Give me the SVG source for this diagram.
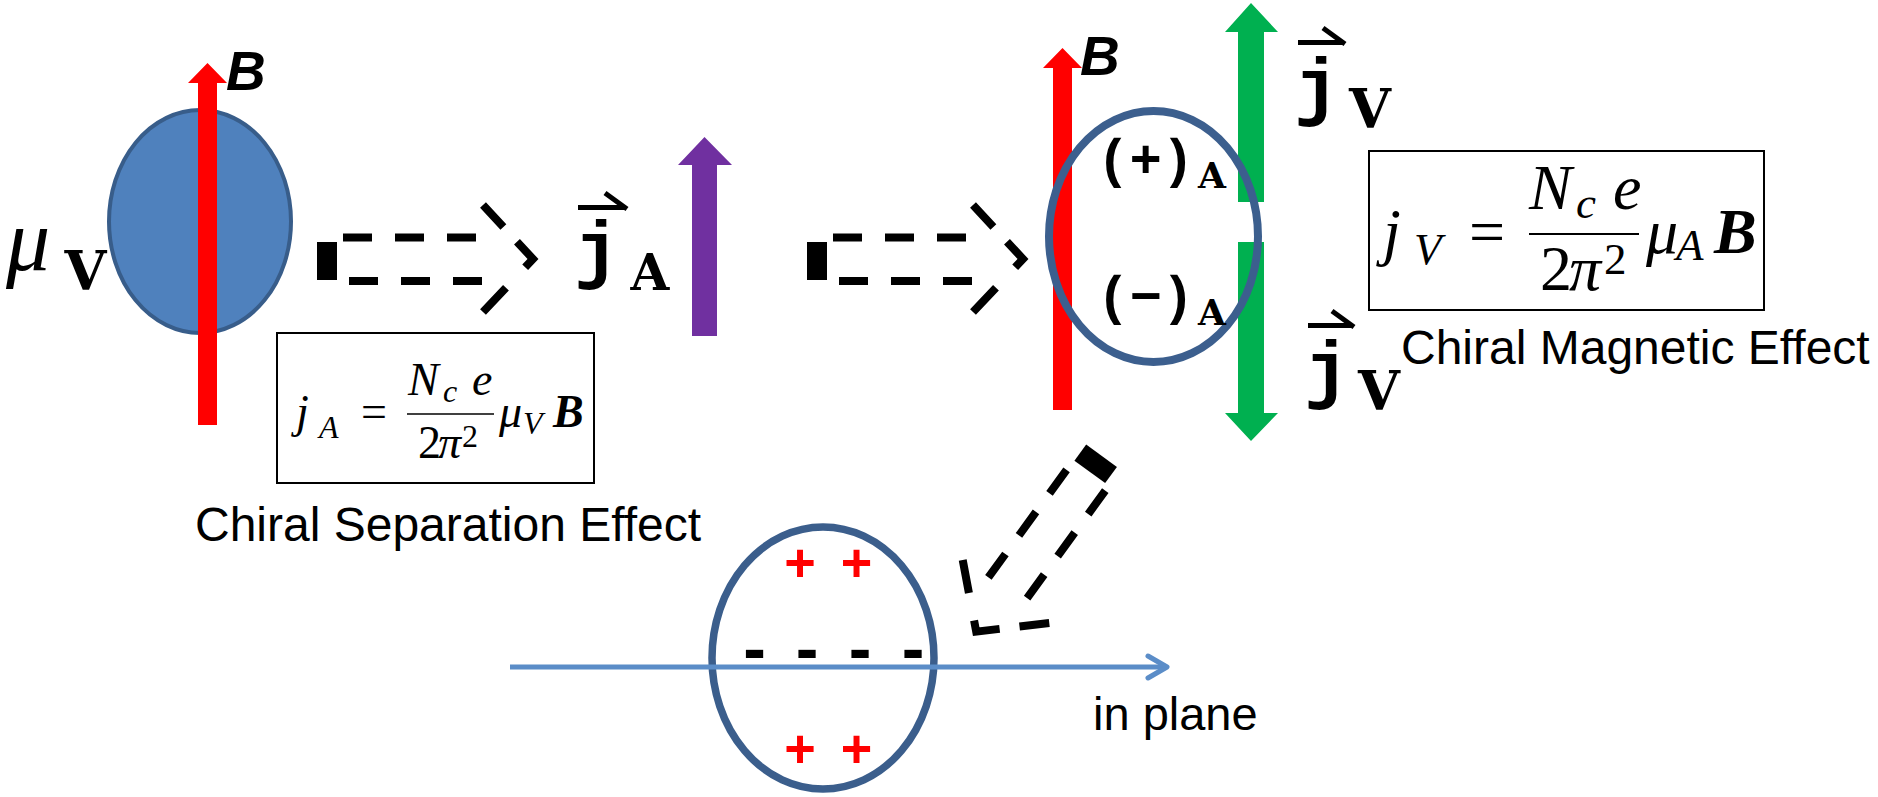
<svg xmlns="http://www.w3.org/2000/svg" xmlns:xlink="http://www.w3.org/1999/xlink" width="1878" height="797" viewBox="0 0 1878 797">
<style>
.sans{font-family:"Liberation Sans",Arial,sans-serif;fill:#000}
.bi{font-family:"Liberation Sans",Arial,sans-serif;font-weight:bold;font-style:italic;fill:#000}
.mono{font-family:"Liberation Mono","Courier New",monospace;font-weight:bold;fill:#000}
.slab{font-family:"DejaVu Serif",serif;font-weight:bold;fill:#000}
.m{font-family:"Liberation Serif","Times New Roman",serif;fill:#000}
.it{font-style:italic}
.bd{font-weight:bold}
.vec{fill:none;stroke:#000;stroke-width:5}
.box{fill:#fff;stroke:#000;stroke-width:2}
.red{fill:#FF0000}
.green{fill:#00B050}
.dash{fill:none;stroke:#000;stroke-width:8}
.plus{font-family:"Liberation Sans",Arial,sans-serif;font-weight:bold;fill:#FF0000;text-anchor:middle}
.minus{font-family:"Liberation Sans",Arial,sans-serif;font-weight:bold;fill:#000;text-anchor:middle}
</style>
<defs>
<g id="dashArrow">
<rect x="317" y="242" width="20" height="38" fill="#000"/>
<path class="dash" d="M343,237.5 H476" stroke-dasharray="29 23"/>
<path class="dash" d="M349,281 H482" stroke-dasharray="29 23"/>
<path class="dash" d="M483,205 L533,259 L483,312" stroke-dasharray="30 20 35 28 40"/>
</g>
</defs>
<rect width="1878" height="797" fill="#fff"/>

<!-- left blob with mu_V -->
<g id="blob-left">
<ellipse cx="200" cy="221.5" rx="91" ry="111.5" fill="#4F81BD" stroke="#385D8A" stroke-width="4"/>
<polygon class="red" points="198,425 198,83 188,83 207.5,63 227,83 217,83 217,425"/>
<text class="bi" x="226" y="90" font-size="55">B</text>
<text class="m it" x="6" y="270" font-size="88">μ</text>
<text class="slab" x="85.5" y="290" font-size="54" text-anchor="middle">V</text>
</g>

<!-- CSE formula -->
<g id="cse">
<rect class="box" x="277" y="333" width="317" height="150"/>
<text class="m it" x="296" y="427" font-size="46">j</text>
<text class="m it" x="319" y="438" font-size="32">A</text>
<text class="m" x="374" y="427" font-size="46" text-anchor="middle">=</text>
<text class="m it" x="408" y="395" font-size="46">N</text>
<text class="m it" x="443" y="402" font-size="32">c</text>
<text class="m it" x="472" y="395" font-size="46">e</text>
<line x1="407" y1="414" x2="494" y2="414" stroke="#000" stroke-width="1.6"/>
<text class="m" x="418" y="458" font-size="46">2<tspan font-style="italic" dx="-3">π</tspan><tspan font-size="32" dx="1" dy="-11">2</tspan></text>
<text class="m it" x="499" y="427" font-size="46">μ</text>
<text class="m it" x="523" y="434" font-size="32">V</text>
<text class="m it bd" x="553" y="427" font-size="46">B</text>
<text class="sans" x="195" y="541" font-size="48">Chiral Separation Effect</text>
</g>

<!-- j_A with purple arrow -->
<g id="jA">
<path class="vec" d="M578,207.5 H624 M627,209 L605,193"/>
<text class="mono" x="597" y="274" font-size="76" text-anchor="middle">j</text>
<text class="slab" x="650" y="290" font-size="50" text-anchor="middle">A</text>
<polygon fill="#7030A0" points="692,336 692,165 678,165 704.5,137 732,165 717,165 717,336"/>
</g>

<!-- middle: CME -->
<g id="cme-blob">
<polygon class="green" points="1238,202 1238,32 1225,32 1251,3 1278,32 1264,32 1264,202"/>
<polygon class="green" points="1238,242 1238,413 1225,413 1251,441 1278,413 1264,413 1264,242"/>
<polygon class="red" points="1053,410 1053,68 1043,68 1062.5,48 1082,68 1072,68 1072,410"/>
<ellipse cx="1153.5" cy="236.5" rx="104.5" ry="125.5" fill="none" stroke="#3C5F8E" stroke-width="8"/>
<text class="bi" x="1080" y="75" font-size="55">B</text>
<text class="mono" x="1097" y="177" font-size="54">(+)</text>
<text class="slab" x="1212" y="188" font-size="36" text-anchor="middle">A</text>
<text class="mono" x="1097" y="314" font-size="54">(−)</text>
<text class="slab" x="1212" y="325" font-size="36" text-anchor="middle">A</text>
</g>

<g id="jV-top">
<path class="vec" d="M1298,42.5 H1342 M1345,44 L1323,28"/>
<text class="mono" x="1317" y="111" font-size="76" text-anchor="middle">j</text>
<text class="slab" x="1370" y="128" font-size="54" text-anchor="middle">V</text>
</g>
<g id="jV-bottom">
<path class="vec" d="M1308,325.5 H1351 M1354,327 L1332,311"/>
<text class="mono" x="1327" y="394" font-size="76" text-anchor="middle">j</text>
<text class="slab" x="1379" y="410" font-size="54" text-anchor="middle">V</text>
</g>

<!-- CME formula -->
<g id="cme">
<rect class="box" x="1369" y="151" width="395" height="159"/>
<text class="m it" x="1383" y="253" font-size="64">j</text>
<text class="m it" x="1414" y="264" font-size="45">V</text>
<text class="m" x="1487" y="253" font-size="64" text-anchor="middle">=</text>
<text class="m it" x="1529" y="209" font-size="64">N</text>
<text class="m it" x="1576" y="218" font-size="45">c</text>
<text class="m it" x="1613" y="209" font-size="64">e</text>
<line x1="1529" y1="234" x2="1639" y2="234" stroke="#000" stroke-width="2"/>
<text class="m" x="1540" y="290" font-size="64">2<tspan font-style="italic" dx="-3">π</tspan><tspan font-size="45" dx="3" dy="-16">2</tspan></text>
<text class="m it" x="1646" y="253" font-size="64">μ</text>
<text class="m it" x="1676" y="260" font-size="45">A</text>
<text class="m it bd" x="1714" y="253" font-size="64">B</text>
<text class="sans" x="1401" y="364" font-size="48">Chiral Magnetic Effect</text>
</g>

<!-- bottom: in-plane -->
<g id="inplane">
<ellipse cx="823" cy="658" rx="111" ry="131" fill="none" stroke="#3B5E8C" stroke-width="7.5"/>
<text class="plus" x="800" y="581" font-size="54">+</text>
<text class="plus" x="856.5" y="581" font-size="54">+</text>
<text class="plus" x="800" y="767" font-size="54">+</text>
<text class="plus" x="856.5" y="767" font-size="54">+</text>
<text class="minus" x="754.5" y="672" font-size="68">-</text>
<text class="minus" x="807" y="672" font-size="68">-</text>
<text class="minus" x="860" y="672" font-size="68">-</text>
<text class="minus" x="913" y="672" font-size="68">-</text>
<path d="M510,667 H1165" stroke="#5B8DC8" stroke-width="5" fill="none"/>
<polyline points="1148,656 1167,667 1148,678" fill="none" stroke="#5B8DC8" stroke-width="5" stroke-linecap="round" stroke-linejoin="round"/>
<text class="sans" x="1093" y="730" font-size="47">in plane</text>
</g>

<!-- connectors -->
<g id="connectors">
<use xlink:href="#dashArrow" href="#dashArrow"/>
<use xlink:href="#dashArrow" href="#dashArrow" transform="translate(490,0)"/>
<use xlink:href="#dashArrow" href="#dashArrow" transform="translate(1006,591.5) rotate(126) translate(-483,-258.5)"/>
</g>
</svg>
